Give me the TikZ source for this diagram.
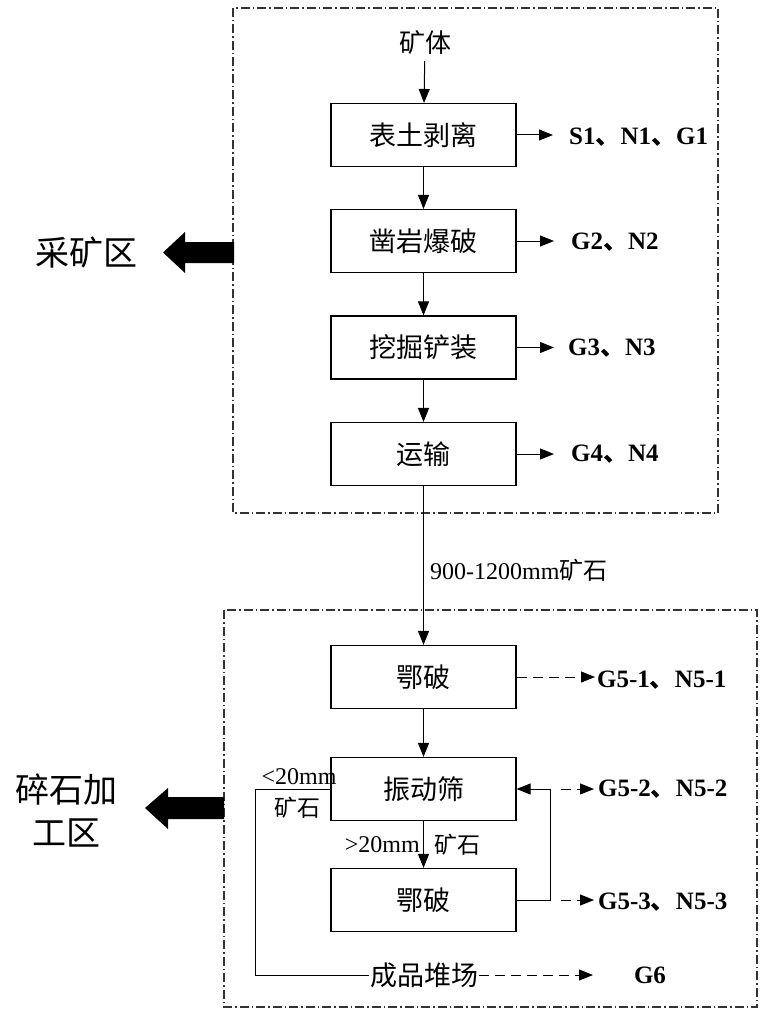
\documentclass[tikz,border=0pt]{standalone}
\usepackage{fontspec}
\setmainfont{Liberation Serif}
\newfontfamily\cjk{Noto Sans CJK SC}
\usetikzlibrary{arrows.meta}
\newcommand\ZDun{{\cjk 、}}
\tikzset{
  box/.style={draw, line width=1.1pt, minimum width=185pt, minimum height=63pt, inner sep=0pt,
    font=\cjk\fontsize{27}{30}\selectfont},
  flow/.style={-{Triangle[length=14pt,width=11pt]}, line width=1pt},
  dflow/.style={flow, dash pattern=on 10pt off 6pt},
  zone/.style={draw=black!80, line width=1.1pt, dash pattern=on 9pt off 3pt on 1.5pt off 3pt},
  lbl/.style={font=\bfseries\fontsize{25}{28}\selectfont, anchor=west, inner sep=0pt},
  txt/.style={font=\fontsize{24}{26}\selectfont, inner sep=0pt},
  ctxt/.style={font=\cjk\fontsize{26}{30}\selectfont, inner sep=0pt},
}
\begin{document}
\begin{tikzpicture}[x=1pt,y=-1pt]
\useasboundingbox (0,0) rectangle (765,1014);
% zones
\draw[zone] (233,8) rectangle (718,513);
\draw[zone] (224,610) rectangle (757,1007);
% zone titles and big arrows
\node[font=\cjk\fontsize{34}{40}\selectfont, inner sep=0pt] (zoneA) at (86,252) {采矿区};
\node[font=\cjk\fontsize{34}{43}\selectfont, inner sep=0pt, align=center] (zoneB) at (67,811) {碎石加\\工区};
\fill (234,242) -- (185,242) -- (185,232) -- (163,252.5) -- (185,273) -- (185,263) -- (234,263) -- cycle;
\fill (224,797) -- (168,797) -- (168,788) -- (145,808) -- (168,829) -- (168,819) -- (224,819) -- cycle;
% mining chain
\node[ctxt] (ore) at (425,43) {矿体};
\node[box] (b1) at (423.5,135) {表土剥离};
\node[box] (b2) at (423.5,241) {凿岩爆破};
\node[box] (b3) at (423.5,347.5) {挖掘铲装};
\node[box] (b4) at (423.5,454) {运输};
\draw[flow, shorten <=6pt] (ore) -- (b1);
\draw[flow] (b1) -- (b2);
\draw[flow] (b2) -- (b3);
\draw[flow] (b3) -- (b4);
\node[lbl] (l1) at (569,137) {S1\ZDun N1\ZDun G1};
\node[lbl] (l2) at (571,242) {G2\ZDun N2};
\node[lbl] (l3) at (568,348) {G3\ZDun N3};
\node[lbl] (l4) at (571,454) {G4\ZDun N4};
\draw[flow, shorten >=16pt] (b1.east) -- (b1.east -| l1.west);
\draw[flow, shorten >=17pt] (b2.east) -- (b2.east -| l2.west);
\draw[flow, shorten >=14pt] (b3.east) -- (b3.east -| l3.west);
\draw[flow, shorten >=17pt] (b4.east) -- (b4.east -| l4.west);
% crushing chain
\node[box] (c1) at (423.5,677) {鄂破};
\node[box] (c2) at (423.5,789) {振动筛};
\node[box] (c3) at (423.5,900) {鄂破};
\draw[flow] (b4) -- (c1);
\node[txt, anchor=west] (size) at (430,570) {900-1200mm{\cjk 矿石}};
\draw[flow] (c1) -- (c2);
\draw[flow] (c2) -- (c3);
\node[txt, anchor=east] (gt) at (420,845) {>20mm};
\node[txt, anchor=west, font=\cjk\fontsize{23}{26}\selectfont] (gtb) at (434,845) {矿石};
% feedback loop
\coordinate (fbb) at (550,900);
\coordinate (fbt) at (550,789);
\draw[flow] (c3.east) -- (fbb) -- (fbt) -- (c2.east);
% emissions
\node[lbl] (l51) at (597,680) {G5-1\ZDun N5-1};
\node[lbl] (l52) at (598,789) {G5-2\ZDun N5-2};
\node[lbl] (l53) at (598,902) {G5-3\ZDun N5-3};
\draw[dflow, shorten >=2pt] (c1.east) -- (c1.east -| l51.west);
\coordinate (d2) at (561,789);
\coordinate (d3) at (561,900);
\draw[dflow, shorten >=4pt] (d2) -- (d2 -| l52.west);
\draw[dflow, shorten >=4pt] (d3) -- (d3 -| l53.west);
% bypass to yard
\node[font=\cjk\fontsize{27}{30}\selectfont, inner sep=1pt] (yard) at (424,975) {成品堆场};
\coordinate (bp1) at (255,789);
\coordinate (bp2) at (255,975);
\draw[line width=1pt] (c2.west) -- (bp1) -- (bp2) -- (yard.west);
\node[txt] (lt) at (299,777) {<20mm};
\node[ctxt, font=\cjk\fontsize{23}{26}\selectfont] (ltb) at (297,808) {矿石};
\node[lbl, anchor=center] (g6) at (650,975) {G6};
\coordinate (g6tip) at (593,975);
\draw[dflow] (yard.east) -- (g6tip);
\end{tikzpicture}
\end{document}
